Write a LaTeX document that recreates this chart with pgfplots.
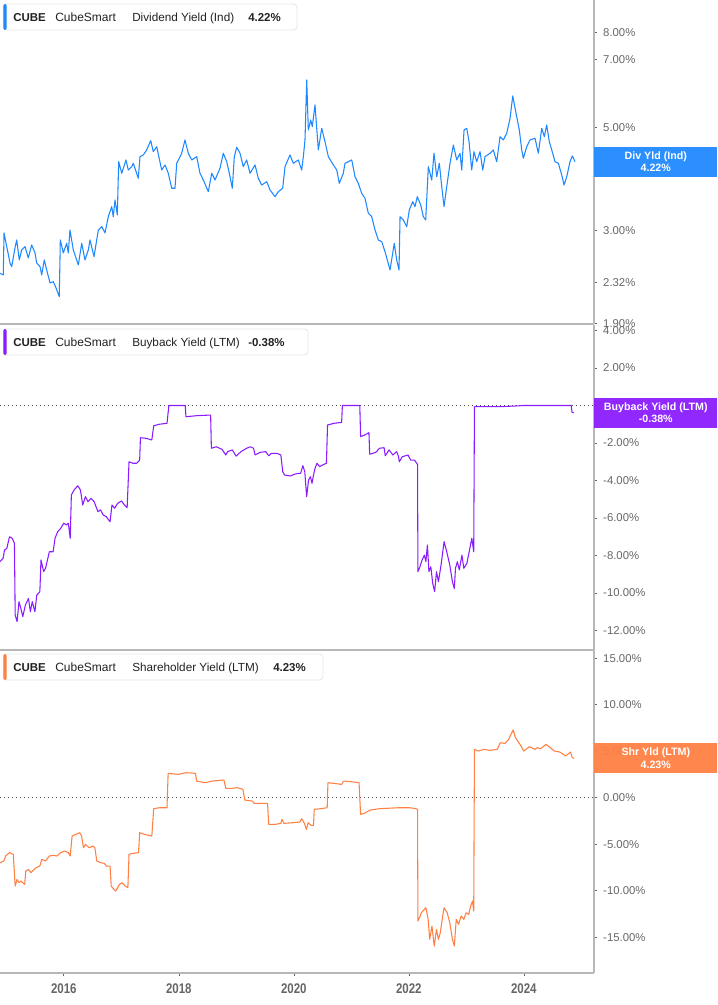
\documentclass[border=0pt]{standalone}
\usepackage{pgfplots}
\pgfplotsset{compat=1.18}
\usepackage{fontspec}
\setmainfont{Liberation Sans}
\newfontfamily\yearfont[FakeStretch=0.82]{Liberation Sans}

\definecolor{divblue}{RGB}{30,136,255}
\definecolor{bbpurple}{RGB}{138,28,255}
\definecolor{shrorange}{RGB}{255,128,66}
\definecolor{framegray}{RGB}{184,184,184}
\definecolor{ticktext}{RGB}{102,102,102}
\definecolor{boxline}{RGB}{230,230,230}
\definecolor{titletext}{RGB}{34,34,34}

\pgfplotsset{
  panel/.style={
    at={(0pt,#1)}, anchor=north west,
    scale only axis, width=445.5pt,
    xmin=2014.89, xmax=2025.22,
    axis x line*=bottom, axis y line*=right,
    axis line style={-, draw=framegray, line width=1.1pt},
    tick align=outside, major tick length=2.2pt,
    tick style={draw=ticktext, line width=0.5pt},
    yticklabel style={font=\fontsize{8.5}{10}\selectfont, text=ticktext, xshift=1.2pt},
    xtick=\empty,
    clip=false,
  },
  zeroline/.style={forget plot, draw=black!70, line width=0.6pt,
    dash pattern=on 0.7pt off 2.3pt},
}
\tikzset{
  valbox/.style={fill=#1, fill opacity=0.94, text opacity=1, text=white,
    anchor=west, inner sep=0pt,
    minimum width=92.25pt, minimum height=22.5pt, align=center,
    font=\bfseries\fontsize{8}{9.4}\selectfont},
}

% title box: top offset, right end, colour, description, value, value x
\newcommand\titlebox[6]{%
  \draw[boxline, fill=white, rounded corners=2.5pt, line width=0.6pt]
    (2.5pt,-#1-3pt) rectangle (#2,-#1-22.5pt);
  \fill[#3, rounded corners=1.5pt] (2.5pt,-#1-3pt) rectangle (5pt,-#1-22.5pt);
  \node[anchor=base west, inner sep=0pt, text=titletext,
    font=\bfseries\fontsize{8.6}{10}\selectfont] at (9.75pt,-#1-15.9pt) {CUBE};
  \node[anchor=base west, inner sep=0pt, text=titletext,
    font=\fontsize{9}{10}\selectfont] at (41.25pt,-#1-15.9pt) {CubeSmart};
  \node[anchor=base west, inner sep=0pt, text=titletext,
    font=\fontsize{8.8}{10}\selectfont] at (99pt,-#1-15.9pt) {#4};
  \node[anchor=base west, inner sep=0pt, text=titletext,
    font=\bfseries\fontsize{8.6}{10}\selectfont] at (#6,-#1-15.9pt) {#5};
}

\begin{document}
\begin{tikzpicture}
\path[use as bounding box] (0pt,0pt) rectangle (537.75pt,-753.75pt);

% ---- dividend yield (log scale)
\begin{axis}[panel=0pt, height=243pt,
  ymode=log, ymin=1.892, ymax=9.38,
  ytick={1.9,2.32,3,5,7,8},
  yticklabels={1.90\%,2.32\%,3.00\%,5.00\%,7.00\%,8.00\%},
  minor ytick={}]
\addplot[divblue, line width=0.8pt, line join=round] table {
2014.89 2.431
2014.947 2.411
2014.96 2.967
2015.007 2.773
2015.064 2.558
2015.093 2.512
2015.151 2.755
2015.18 2.866
2015.226 2.596
2015.267 2.728
2015.325 2.773
2015.382 2.622
2015.441 2.796
2015.499 2.688
2015.528 2.558
2015.586 2.512
2015.615 2.411
2015.66 2.596
2015.702 2.471
2015.76 2.317
2015.817 2.332
2015.864 2.261
2015.921 2.166
2015.939 2.866
2015.991 2.688
2016.05 2.819
2016.078 2.688
2016.107 3.011
2016.165 2.728
2016.252 2.533
2016.311 2.819
2016.368 2.596
2016.426 2.728
2016.455 2.866
2016.525 2.639
2016.6 3.011
2016.659 3.061
2016.716 2.967
2016.773 3.215
2016.833 3.379
2016.86 3.215
2016.89 3.492
2016.93 3.243
2016.954 4.219
2017.007 3.985
2017.081 4.255
2017.121 4.049
2017.18 4.117
2017.208 4.186
2017.295 3.887
2017.325 4.325
2017.382 4.362
2017.441 4.471
2017.511 4.681
2017.556 4.433
2017.615 4.544
2017.702 4.049
2017.76 4.152
2017.817 3.985
2017.876 3.700
2017.933 3.700
2017.963 4.186
2018.05 4.398
2018.107 4.697
2018.165 4.398
2018.224 4.255
2018.311 4.325
2018.368 3.985
2018.426 3.855
2018.513 3.638
2018.572 3.985
2018.629 3.855
2018.716 4.084
2018.773 4.398
2018.833 4.219
2018.89 3.918
2018.93 3.700
2018.965 4.325
2019.007 4.530
2019.064 4.398
2019.121 4.117
2019.18 4.255
2019.238 3.985
2019.325 4.152
2019.382 3.887
2019.441 3.760
2019.528 3.822
2019.586 3.669
2019.673 3.549
2019.73 3.638
2019.806 3.700
2019.847 4.117
2019.933 4.362
2019.991 4.186
2020.077 4.255
2020.137 4.049
2020.165 4.325
2020.194 4.697
2020.224 6.318
2020.252 4.935
2020.293 5.185
2020.321 5.016
2020.368 5.584
2020.426 4.471
2020.485 4.976
2020.542 4.657
2020.6 4.325
2020.687 4.152
2020.746 4.049
2020.791 3.792
2020.86 3.985
2020.89 4.186
2020.947 4.219
2021.007 4.255
2021.064 3.918
2021.121 3.792
2021.18 3.609
2021.238 3.521
2021.295 3.270
2021.354 3.215
2021.412 3.011
2021.469 2.866
2021.528 2.842
2021.586 2.704
2021.673 2.471
2021.747 2.819
2021.789 2.596
2021.829 2.471
2021.847 3.215
2021.904 3.163
2021.963 3.061
2022.008 3.323
2022.067 3.463
2022.107 3.379
2022.147 3.549
2022.206 3.407
2022.252 3.215
2022.293 3.163
2022.339 4.117
2022.398 3.855
2022.438 4.398
2022.485 3.918
2022.53 4.186
2022.572 3.729
2022.612 3.379
2022.659 3.729
2022.716 4.186
2022.774 4.582
2022.833 4.255
2022.89 4.398
2022.92 4.049
2022.96 4.935
2023.007 4.976
2023.047 4.657
2023.093 4.049
2023.133 4.433
2023.18 4.219
2023.238 4.433
2023.285 4.049
2023.325 4.325
2023.412 4.398
2023.469 4.471
2023.528 4.219
2023.586 4.774
2023.643 4.697
2023.702 4.855
2023.76 5.228
2023.807 5.837
2023.864 5.359
2023.921 4.935
2023.963 4.471
2023.991 4.291
2024.05 4.544
2024.107 4.697
2024.194 4.737
2024.252 4.398
2024.311 4.976
2024.356 4.774
2024.397 5.059
2024.443 4.657
2024.485 4.471
2024.542 4.219
2024.6 4.186
2024.659 3.951
2024.699 3.760
2024.746 3.918
2024.803 4.219
2024.843 4.340
2024.89 4.22
};
\node[valbox=divblue] at (axis cs:2025.22,4.22) {Div Yld (Ind)\\4.22\%};
\end{axis}

% ---- buyback yield
\begin{axis}[panel=-243.75pt, height=243.75pt,
  ymin=-13.04, ymax=4.293,
  ytick={-12,-10,-8,-6,-4,-2,0,2,4},
  yticklabels={-12.00\%,-10.00\%,-8.00\%,-6.00\%,-4.00\%,-2.00\%,0.00\%,2.00\%,4.00\%}]
\addplot[zeroline] coordinates {(2014.89,0) (2025.22,0)};
\addplot[bbpurple, line width=0.8pt, line join=round] table {
2014.89 -8.33
2014.943 -8.15
2014.969 -7.71
2015.009 -7.62
2015.055 -7.00
2015.101 -7.08
2015.141 -7.35
2015.154 -11.17
2015.187 -11.53
2015.22 -10.46
2015.253 -10.82
2015.286 -11.26
2015.332 -10.64
2015.385 -10.29
2015.418 -11.00
2015.451 -10.46
2015.497 -11.00
2015.53 -10.11
2015.583 -9.93
2015.603 -8.24
2015.649 -8.86
2015.682 -8.68
2015.715 -8.24
2015.748 -7.80
2015.814 -7.80
2015.847 -7.08
2015.893 -6.73
2015.946 -6.55
2015.999 -6.28
2016.045 -6.37
2016.078 -6.28
2016.111 -7.08
2016.131 -4.77
2016.177 -4.51
2016.243 -4.28
2016.289 -4.51
2016.329 -5.31
2016.375 -4.86
2016.421 -5.13
2016.474 -4.95
2016.527 -5.13
2016.593 -5.66
2016.639 -5.57
2016.685 -5.84
2016.738 -5.93
2016.804 -6.20
2016.837 -5.31
2016.883 -5.48
2016.936 -5.22
2017.002 -5.09
2017.055 -5.31
2017.101 -5.45
2017.134 -3.00
2017.2 -3.08
2017.266 -3.08
2017.319 -2.91
2017.332 -1.72
2017.431 -1.75
2017.53 -1.84
2017.563 -1.08
2017.662 -1.00
2017.794 -0.95
2017.827 0
2018.111 0
2018.124 -0.60
2018.322 -0.54
2018.553 -0.51
2018.566 -2.28
2018.652 -2.20
2018.751 -2.34
2018.817 -2.64
2018.85 -2.46
2018.93 -2.37
2018.996 -2.70
2019.081 -2.46
2019.18 -2.28
2019.246 -2.20
2019.299 -2.28
2019.326 -2.64
2019.411 -2.50
2019.511 -2.46
2019.563 -2.68
2019.61 -2.55
2019.708 -2.55
2019.774 -2.64
2019.807 -3.53
2019.84 -3.71
2019.94 -3.76
2020.006 -3.67
2020.072 -3.62
2020.118 -3.62
2020.157 -3.21
2020.19 -3.53
2020.223 -4.86
2020.256 -3.97
2020.289 -3.80
2020.316 -4.15
2020.342 -3.71
2020.369 -3.35
2020.402 -3.08
2020.448 -3.26
2020.501 -3.17
2020.567 -3.08
2020.586 -1.04
2020.699 -0.95
2020.831 -0.90
2020.844 0
2021.147 0
2021.161 -1.66
2021.227 -1.58
2021.306 -1.45
2021.319 -2.60
2021.425 -2.50
2021.491 -2.28
2021.57 -2.25
2021.59 -2.68
2021.656 -2.37
2021.722 -2.64
2021.788 -2.46
2021.821 -2.73
2021.834 -3.00
2021.887 -2.73
2021.986 -2.64
2022.032 -2.91
2022.098 -2.91
2022.151 -3.14
2022.158 -8.86
2022.184 -8.68
2022.23 -8.24
2022.27 -7.98
2022.296 -8.33
2022.323 -7.44
2022.349 -8.86
2022.382 -8.60
2022.415 -9.48
2022.448 -9.93
2022.481 -8.86
2022.514 -9.40
2022.56 -8.51
2022.613 -7.26
2022.659 -7.80
2022.712 -8.51
2022.758 -9.40
2022.791 -9.76
2022.811 -8.68
2022.844 -8.33
2022.877 -8.77
2022.923 -7.98
2022.956 -8.68
2023.009 -8.42
2023.055 -7.71
2023.095 -7.08
2023.128 -7.80
2023.141 -0.06
2023.603 -0.06
2023.834 -0.03
2023.999 0
2024.824 0
2024.837 -0.36
2024.87 -0.38
};
\node[valbox=bbpurple] at (axis cs:2025.22,-0.38) {Buyback Yield (LTM)\\-0.38\%};
\end{axis}

% ---- shareholder yield
\begin{axis}[panel=-487.5pt, height=242.25pt,
  ymin=-18.85, ymax=15.88,
  ytick={-15,-10,-5,0,5,10,15},
  yticklabels={-15.00\%,-10.00\%,-5.00\%,0.00\%,5.00\%,10.00\%,15.00\%},
  xtick={2016,2018,2020,2022,2024},
  xticklabels={2016,2018,2020,2022,2024},
  xticklabel style={font=\yearfont\bfseries\fontsize{10.5}{12}\selectfont,
    text=ticktext, yshift=-2pt}]
\addplot[zeroline] coordinates {(2014.89,0) (2025.22,0)};
\addplot[shrorange, line width=0.8pt, line join=round] table {
2014.89 -6.99
2014.956 -6.81
2014.989 -6.27
2015.055 -5.91
2015.121 -6.09
2015.154 -9.50
2015.187 -8.78
2015.22 -9.14
2015.253 -8.96
2015.319 -9.32
2015.339 -7.89
2015.385 -7.71
2015.431 -8.06
2015.484 -7.71
2015.517 -7.53
2015.583 -7.35
2015.616 -6.63
2015.682 -6.81
2015.748 -6.27
2015.814 -6.20
2015.88 -6.27
2015.946 -5.91
2016.012 -5.73
2016.078 -5.91
2016.111 -6.27
2016.144 -4.12
2016.21 -3.94
2016.276 -3.76
2016.309 -4.12
2016.342 -5.38
2016.375 -5.02
2016.441 -5.38
2016.507 -5.20
2016.54 -5.38
2016.573 -6.81
2016.639 -6.99
2016.705 -7.06
2016.738 -7.35
2016.804 -7.35
2016.824 -9.50
2016.870 -9.86
2016.903 -10.04
2016.969 -9.32
2017.015 -9.14
2017.068 -9.50
2017.114 -9.68
2017.134 -6.09
2017.2 -5.99
2017.299 -5.91
2017.319 -3.76
2017.398 -3.94
2017.53 -4.12
2017.563 -1.18
2017.662 -1.08
2017.794 -1.08
2017.814 2.62
2017.992 2.51
2018.124 2.69
2018.289 2.62
2018.309 1.79
2018.454 1.61
2018.586 1.79
2018.784 1.90
2018.817 1.00
2018.916 1.00
2019.015 1.08
2019.114 0.90
2019.147 -0.25
2019.279 -0.36
2019.312 -0.61
2019.543 -0.61
2019.563 -2.87
2019.675 -2.87
2019.774 -2.76
2019.794 -2.33
2019.827 -2.76
2019.972 -2.69
2020.105 -2.62
2020.138 -2.26
2020.184 -2.76
2020.217 -3.41
2020.25 -2.69
2020.303 -2.97
2020.342 -2.97
2020.355 -1.25
2020.468 -1.18
2020.58 -1.08
2020.593 1.61
2020.699 1.54
2020.831 1.43
2020.864 1.79
2020.996 1.72
2021.134 1.61
2021.161 -1.79
2021.227 -1.68
2021.326 -1.33
2021.491 -1.18
2021.821 -1.08
2022.019 -1.08
2022.118 -1.18
2022.151 -1.25
2022.158 -13.26
2022.184 -12.90
2022.217 -12.37
2022.27 -12.01
2022.296 -11.83
2022.336 -13.08
2022.362 -15.23
2022.402 -13.80
2022.441 -15.95
2022.481 -14.16
2022.514 -15.23
2022.547 -14.52
2022.58 -13.08
2022.613 -11.83
2022.666 -12.37
2022.712 -13.44
2022.758 -15.23
2022.791 -15.95
2022.824 -13.08
2022.864 -13.62
2022.910 -12.72
2022.956 -13.08
2022.996 -12.37
2023.042 -12.54
2023.075 -11.65
2023.108 -11.11
2023.128 -12.19
2023.141 5.20
2023.207 5.02
2023.306 5.20
2023.405 5.09
2023.537 5.20
2023.59 5.91
2023.669 5.84
2023.735 6.27
2023.814 7.28
2023.854 6.45
2023.933 5.73
2023.999 5.02
2024.098 5.48
2024.197 5.20
2024.23 5.38
2024.296 5.27
2024.382 5.73
2024.461 5.38
2024.527 5.02
2024.626 4.91
2024.725 4.48
2024.811 4.91
2024.844 4.30
2024.877 4.23
};
\node[valbox=shrorange] at (axis cs:2025.22,4.23) {Shr Yld (LTM)\\4.23\%};
\end{axis}

\titlebox{0pt}{222.75pt}{divblue}{Dividend Yield (Ind)}{4.22\%}{186pt}
\titlebox{243.75pt}{231pt}{bbpurple}{Buyback Yield (LTM)}{-0.38\%}{186pt}
\titlebox{487.5pt}{242.25pt}{shrorange}{Shareholder Yield (LTM)}{4.23\%}{204.75pt}
\end{tikzpicture}
\end{document}
